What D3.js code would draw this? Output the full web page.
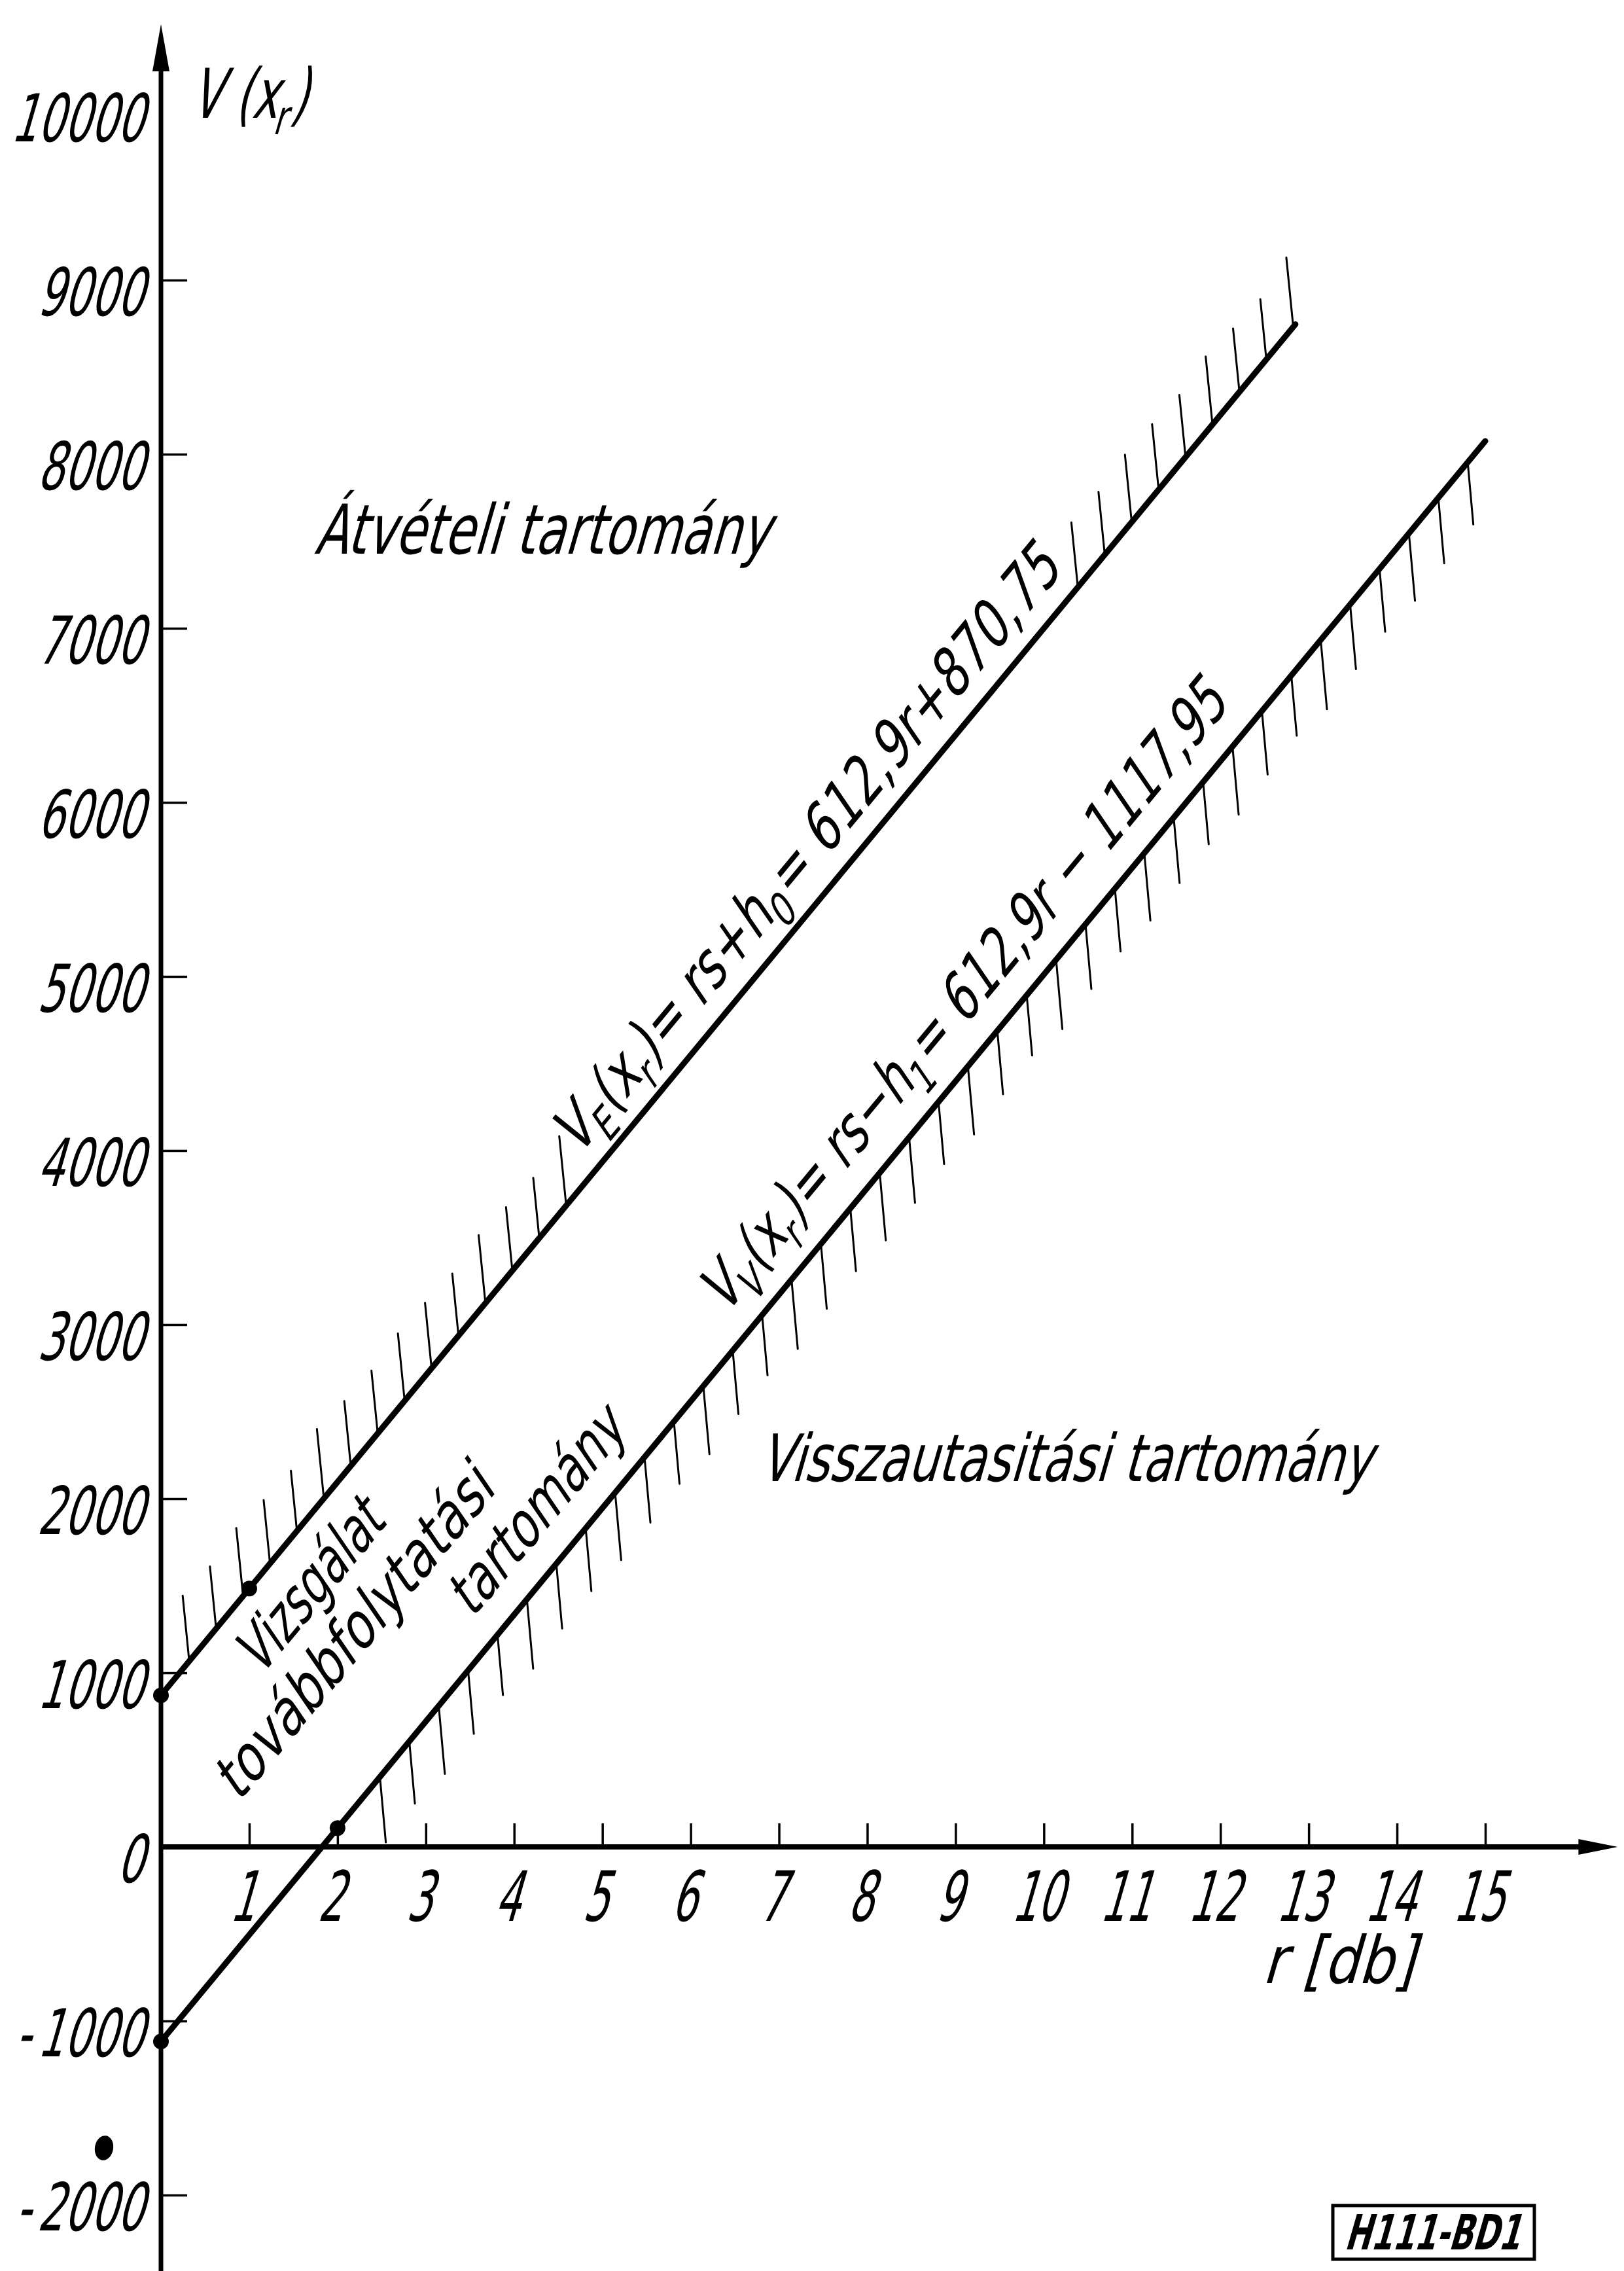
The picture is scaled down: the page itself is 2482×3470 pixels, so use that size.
<!DOCTYPE html>
<html>
<head>
<meta charset="utf-8">
<script src="https://cdn.jsdelivr.net/npm/d3@7"></script>
<style>
  html, body { margin: 0; padding: 0; background: #fff; }
  svg { display: block; }
  text { white-space: pre; }
</style>
</head>
<body>
<script>
// Sequential test chart: cumulative value V(x_r) against the number r [db]

// axis ticks
const rTicks = [1, 2, 3, 4, 5, 6, 7, 8, 9, 10, 11, 12, 13, 14, 15];
const vTicks = [-2000, -1000, 0, 1000, 2000, 3000, 4000, 5000, 6000, 7000, 8000, 9000, 10000];

// acceptance limit V_E(x_r) = 612,9 r + 870,75  (end points)
const lineE_r = [0, 12.85];
const lineE_V = [870.75, 8746.52];
// rejection limit V_V(x_r) = 612,9 r - 1117,95  (end points)
const lineV_r = [0, 15];
const lineV_V = [-1117.95, 8075.55];

// marked points on the two limit lines
const dotR = [0, 1, 0, 2];
const dotV = [870.75, 1483.65, -1117.95, 107.85];

// texts
const labelE = [["V"], ["E", 1], ["(x"], ["r", 1], [")= rs+h"], ["0", 1], ["= 612,9r+870,75"]];
const labelV = [["V"], ["V", 1], ["(x"], ["r", 1], [")= rs\u2212h"], ["1", 1], ["= 612,9r \u2212 1117,95"]];
const bandLines = ["Vizsgálat", "továbbfolytatási", "tartomány"];
const acceptText = "Átvételi tartomány";
const rejectText = "Visszautasitási tartomány";
const stampText = "H111-BD1";

const W = 2482, H = 3470;
const FONT = "'DejaVu Sans', 'Liberation Sans', sans-serif";
const INK = "#000";

const svg = d3.select("body").append("svg")
  .attr("width", W).attr("height", H)
  .attr("viewBox", `0 0 ${W} ${H}`)
  .style("font-family", FONT);

svg.append("rect").attr("width", W).attr("height", H).attr("fill", "#fff");

const x = d3.scaleLinear().domain([0, 15]).range([246, 2270]);
const y = d3.scaleLinear().domain([0, 10000]).range([2822, 162]);

// slope of the limit lines on screen, used for rotated lettering
const angle = Math.atan2(y(612.9) - y(0), x(1) - x(0)) * 180 / Math.PI;

// lettering helper: slanted, horizontally condensed technical lettering
function letter(parent, parts, o) {
  const t = parent.append("text")
    .attr("font-size", o.size)
    .attr("font-weight", o.weight || "normal")
    .attr("fill", INK)
    .attr("text-anchor", o.anchor || "start");
  const sh = o.size * 0.24;
  let low = false;
  for (const [s, sub] of parts) {
    const ts = t.append("tspan").text(s);
    if (sub) {
      ts.attr("font-size", o.size * 0.7);
      if (!low) { ts.attr("dy", sh); low = true; }
    } else if (low) {
      ts.attr("dy", -sh); low = false;
    }
  }
  const natural = t.node().getComputedTextLength();
  const sx = o.width / natural;
  t.attr("transform",
    `translate(${o.x},${o.y}) rotate(${o.angle || 0}) skewX(-16) scale(${sx},1)`);
  return t;
}

// ---- axes ----
const axisG = svg.append("g");
// vertical axis with arrow
axisG.append("line")
  .attr("x1", x(0)).attr("x2", x(0))
  .attr("y1", H).attr("y2", y(10470) + 70)
  .attr("stroke", INK).attr("stroke-width", 7);
axisG.append("path")
  .attr("d", `M${x(0) - 13},${y(10470) + 72} L${x(0)},${y(10470)} L${x(0) + 13},${y(10470) + 72} Z`)
  .attr("fill", INK);
// horizontal axis with arrow
axisG.append("line")
  .attr("x1", x(0)).attr("x2", x(16.5) - 55)
  .attr("y1", y(0)).attr("y2", y(0))
  .attr("stroke", INK).attr("stroke-width", 8);
axisG.append("path")
  .attr("d", `M${x(16.5) - 60},${y(0) - 12} L${x(16.5)},${y(0)} L${x(16.5) - 60},${y(0) + 12} Z`)
  .attr("fill", INK);

// r ticks (upwards) and labels
const gx = svg.append("g")
  .attr("transform", `translate(0,${y(0)})`)
  .call(d3.axisBottom(x).tickValues(rTicks).tickSizeInner(-36).tickSizeOuter(0).tickFormat(d3.format("d")));
gx.attr("font-size", null).attr("font-family", null);
gx.select(".domain").remove();
gx.selectAll(".tick line").attr("stroke", INK).attr("stroke-width", 3.5);
gx.selectAll(".tick text")
  .attr("y", null).attr("dy", null)
  .attr("fill", INK)
  .attr("font-size", 106)
  .attr("text-anchor", "middle")
  .attr("transform", "translate(-12,113) skewX(-16) scale(0.58,1)");

// V ticks (to the right) and labels (to the left)
const gy = svg.append("g")
  .attr("transform", `translate(${x(0)},0)`)
  .call(d3.axisRight(y).tickValues(vTicks).tickSizeInner(40).tickSizeOuter(0)
    .tickFormat(v => v < 0 ? "-\u2006" + Math.abs(v) : String(v)));
gy.attr("font-size", null).attr("font-family", null);
gy.select(".domain").remove();
gy.selectAll(".tick line")
  .attr("stroke", INK).attr("stroke-width", 3.5)
  .filter(v => v === 0 || v === 10000).remove();
gy.selectAll(".tick text")
  .attr("x", null).attr("dy", null)
  .attr("fill", INK)
  .attr("font-size", 101)
  .attr("text-anchor", "end")
  .attr("transform", "translate(-28,53) skewX(-16) scale(0.63,1)");

// ---- hatching on the outer side of each limit line ----
const vE = d3.scaleLinear().domain(lineE_r).range(lineE_V);
const vV = d3.scaleLinear().domain(lineV_r).range(lineV_V);
const hatchLen = [100, 95, 104, 97, 92, 106, 99, 96, 103];

function hatch(vAt, r0, r1, step, skip, dx, sign) {
  const feet = d3.range(r0, r1, step).filter(r => !(skip && r > skip[0] && r < skip[1]));
  svg.append("g")
    .attr("stroke", INK).attr("stroke-width", 3).attr("stroke-linecap", "round")
    .selectAll("line").data(feet).join("line")
    .attr("x1", r => x(r)).attr("y1", r => y(vAt(r)))
    .attr("x2", (r, i) => x(r) + dx * hatchLen[i % hatchLen.length] / 100)
    .attr("y2", (r, i) => y(vAt(r)) + sign * hatchLen[i % hatchLen.length]);
}
hatch(vE, 0.32, 12.85, 0.305, [4.6, 10.35], -10, -1);
hatch(vV, 2.48, 14.96, 0.333, null, 9, 1);

// ---- limit lines ----
const lineGen = d3.line().x(d => x(d[0])).y(d => y(d[1]));
svg.append("path").datum(d3.zip(lineE_r, lineE_V))
  .attr("d", lineGen).attr("fill", "none")
  .attr("stroke", INK).attr("stroke-width", 9).attr("stroke-linecap", "round");
svg.append("path").datum(d3.zip(lineV_r, lineV_V))
  .attr("d", lineGen).attr("fill", "none")
  .attr("stroke", INK).attr("stroke-width", 9).attr("stroke-linecap", "round");

// marked points
svg.append("g").selectAll("circle").data(d3.zip(dotR, dotV)).join("circle")
  .attr("cx", d => x(d[0])).attr("cy", d => y(d[1])).attr("r", 12).attr("fill", INK);

// ---- lettering ----
// axis titles
letter(svg, [["V (x"], ["r", 1], [")"]], { x: x(0.333), y: y(9932), size: 105, width: 178 });
letter(svg, [["r [db]"]], { x: x(12.47), y: y(-782), size: 100, width: 232 });

// equations along the limit lines
letter(svg, labelE, { x: x(4.728), y: y(3962), angle, size: 94, width: 1164 });
letter(svg, labelV, { x: x(6.396), y: y(3053), angle, size: 94, width: 1211 });

// continuation band between the lines
const bandPos = [
  { r: 1.127, v: 974, width: 305 },
  { r: 0.882, v: 252, width: 620 },
  { r: 3.528, v: 1308, width: 374 }
];
bandLines.forEach((s, i) => {
  letter(svg, [[s]], { x: x(bandPos[i].r), y: y(bandPos[i].v), angle, size: 92, width: bandPos[i].width });
});

// regions
letter(svg, [[acceptText]], { x: x(1.734), y: y(7429), size: 105, width: 695 });
letter(svg, [[rejectText]], { x: x(6.774), y: y(2102), size: 100, width: 935 });

// drawing number stamp
const stamp = svg.append("g");
stamp.append("rect")
  .attr("x", 2037).attr("y", 3370).attr("width", 308).attr("height", 82)
  .attr("fill", "none").attr("stroke", INK).attr("stroke-width", 5);
letter(stamp, [[stampText]], { x: 2054, y: 3437, size: 74, width: 268, weight: "bold" });

// ink spot left of the axis
svg.append("ellipse")
  .attr("cx", 159).attr("cy", 3282).attr("rx", 14).attr("ry", 19)
  .attr("transform", "rotate(10,159,3282)")
  .attr("fill", INK);
</script>
</body>
</html>
